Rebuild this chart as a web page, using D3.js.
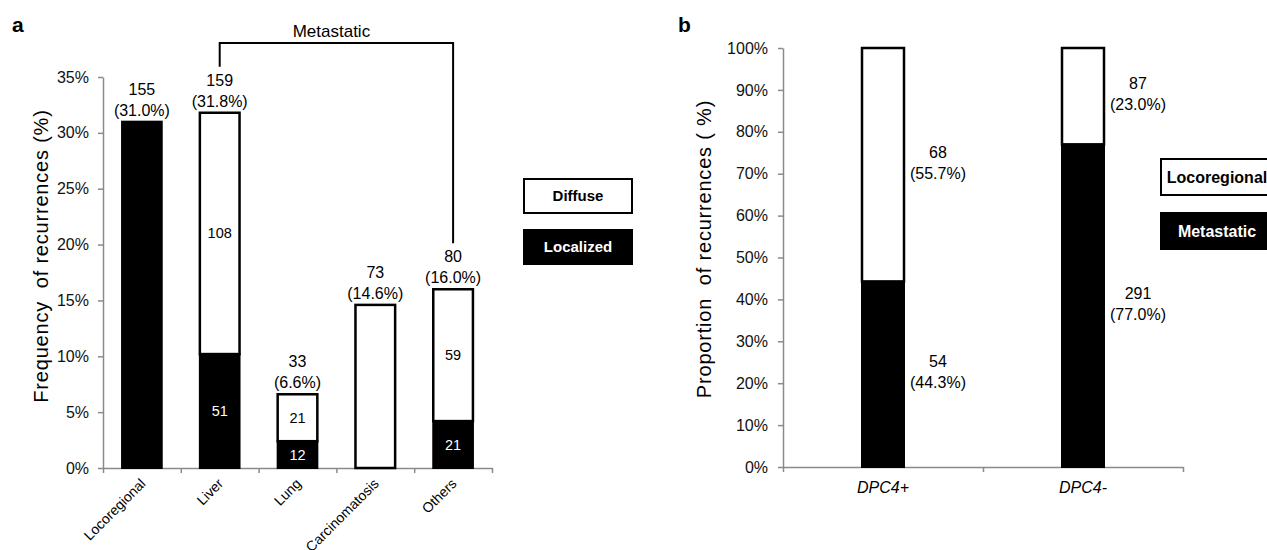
<!DOCTYPE html>
<html>
<head>
<meta charset="utf-8">
<script src="https://cdn.jsdelivr.net/npm/d3@7"></script>
<style>
  body { margin: 0; background: #fff; }
  svg { font-family: "Liberation Sans", Arial, sans-serif; }
</style>
</head>
<body>
<svg id="chart" width="1267" height="550"></svg>
<script>
// panel a: recurrence sites (counts, n = 500)
var sitesA = ["Locoregional", "Liver", "Lung", "Carcinomatosis", "Others"];
var localizedA = [155, 51, 12, 0, 21];
var diffuseA = [0, 108, 21, 73, 59];
var totalA = 500;
var yTicksA = [0, 5, 10, 15, 20, 25, 30, 35];

// panel b: DPC4 status
var groupsB = ["DPC4+", "DPC4-"];
var metastaticB = [54, 291];
var locoregionalB = [68, 87];
var yTicksB = [0, 10, 20, 30, 40, 50, 60, 70, 80, 90, 100];

var svg = d3.select("#chart");
var axisColor = "#8a8a8a";

function styleAxis(g) {
    g.select(".domain").attr("stroke", axisColor).attr("stroke-width", 1.5);
    g.selectAll(".tick line").attr("stroke", axisColor).attr("stroke-width", 1.5);
    g.selectAll(".tick text").attr("fill", "#111").style("font-size", "16px");
}

// ---------- panel a ----------
var xA = d3.scaleBand().domain(sitesA).range([103, 492]).paddingInner(0.49).paddingOuter(0.245);
var xTickA = d3.scaleLinear().domain([0, sitesA.length]).range([103, 492]);
var yA = d3.scaleLinear().domain([0, 35]).range([468, 77]);
var pct = function(n) { return n / totalA * 100; };

svg.append("g")
    .attr("transform", "translate(103,0)")
    .call(d3.axisLeft(yA).tickValues(yTicksA).tickFormat(function(d) { return d + "%"; }).tickSize(5).tickSizeOuter(0).tickPadding(9))
    .call(styleAxis);

svg.append("g")
    .attr("transform", "translate(0,468)")
    .call(d3.axisBottom(xTickA).ticks(sitesA.length).tickFormat("").tickSize(5).tickSizeOuter(0))
    .call(styleAxis);

var barsA = svg.append("g").selectAll("g").data(sitesA).enter().append("g");

barsA.append("rect")   // localized (black)
    .attr("x", function(d) { return xA(d); })
    .attr("width", xA.bandwidth())
    .attr("y", function(d, i) { return yA(pct(localizedA[i])); })
    .attr("height", function(d, i) { return yA(0) - yA(pct(localizedA[i])); })
    .attr("fill", "#000")
    .attr("stroke", "#000").attr("stroke-width", 2);

barsA.filter(function(d, i) { return diffuseA[i] > 0; })
    .append("rect")   // diffuse (white)
    .attr("x", function(d) { return xA(d); })
    .attr("width", xA.bandwidth())
    .attr("y", function(d) { var i = sitesA.indexOf(d); return yA(pct(localizedA[i] + diffuseA[i])); })
    .attr("height", function(d) { var i = sitesA.indexOf(d); return yA(pct(localizedA[i])) - yA(pct(localizedA[i] + diffuseA[i])); })
    .attr("fill", "#fff")
    .attr("stroke", "#000").attr("stroke-width", 2.5);

// totals above bars, counts inside
barsA.each(function(d, i) {
    var g = d3.select(this);
    var n = localizedA[i] + diffuseA[i];
    var top = yA(pct(n));
    var cx = xA(d) + xA.bandwidth() / 2;
    g.append("text").attr("x", cx).attr("y", top - 27).attr("text-anchor", "middle")
        .style("font-size", "16px").text(n);
    g.append("text").attr("x", cx).attr("y", top - 6).attr("text-anchor", "middle")
        .style("font-size", "16px").text("(" + pct(n).toFixed(1) + "%)");
    if (localizedA[i] > 0 && diffuseA[i] > 0) {
        var midL = yA(pct(localizedA[i]) / 2);
        var midD = yA(pct(localizedA[i]) + pct(diffuseA[i]) / 2);
        g.append("text").attr("x", cx).attr("y", midD + 5).attr("text-anchor", "middle")
            .style("font-size", "14.5px").text(diffuseA[i]);
        g.append("text").attr("x", cx).attr("y", midL + 5).attr("text-anchor", "middle")
            .attr("fill", "#fff").style("font-size", "14.5px").text(localizedA[i]);
    }
});

// x labels rotated
svg.append("g").selectAll("text").data(sitesA).enter().append("text")
    .attr("transform", function(d) { return "translate(" + (xA(d) + xA.bandwidth() / 2 + 1) + ",481) rotate(-45)"; })
    .attr("text-anchor", "end")
    .attr("dy", "0.35em")
    .style("font-size", "14px")
    .text(function(d) { return d; });

// "Metastatic" bracket from Liver to Others
var bLeft = xA("Liver") + xA.bandwidth() / 2;
var bRight = xA("Others") + xA.bandwidth() / 2;
var bY = yA(35) - 34;
var liverTop = yA(pct(localizedA[1] + diffuseA[1]));
var othersTop = yA(pct(localizedA[4] + diffuseA[4]));
svg.append("path")
    .attr("d", d3.line()([[bLeft, liverTop - 46], [bLeft, bY], [bRight, bY], [bRight, othersTop - 46]]))
    .attr("fill", "none").attr("stroke", "#000").attr("stroke-width", 2);
svg.append("text").attr("x", (bLeft + bRight) / 2 - 5).attr("y", bY - 6)
    .attr("text-anchor", "middle").style("font-size", "17px").text("Metastatic");

svg.append("text")
    .attr("transform", "translate(48,256) rotate(-90)")
    .attr("text-anchor", "middle").style("font-size", "20px").style("letter-spacing", "0.8px")
    .style("white-space", "pre")
    .text("Frequency  of recurrences (%)");

svg.append("text").attr("x", 12).attr("y", 32).style("font-size", "21px").style("font-weight", "bold").text("a");

// legend a
var legA = [{ label: "Diffuse", fill: "#fff", color: "#000" },
            { label: "Localized", fill: "#000", color: "#fff" }];
var lgA = svg.append("g").selectAll("g").data(legA).enter().append("g")
    .attr("transform", function(d, i) { return "translate(524," + (179 + i * 51) + ")"; });
lgA.append("rect").attr("width", 108).attr("height", 34)
    .attr("fill", function(d) { return d.fill; }).attr("stroke", "#000").attr("stroke-width", 2);
lgA.append("text").attr("x", 54).attr("y", 22).attr("text-anchor", "middle")
    .attr("fill", function(d) { return d.color; })
    .style("font-size", "15px").style("font-weight", "bold")
    .text(function(d) { return d.label; });

// ---------- panel b ----------
var xB = d3.scaleBand().domain(groupsB).range([783, 1183]).paddingInner(0.79).paddingOuter(0.395);
var xTickB = d3.scaleLinear().domain([0, groupsB.length]).range([783, 1183]);
var yB = d3.scaleLinear().domain([0, 100]).range([467, 48]);

svg.append("g")
    .attr("transform", "translate(783,0)")
    .call(d3.axisLeft(yB).tickValues(yTicksB).tickFormat(function(d) { return d + "%"; }).tickSize(5).tickSizeOuter(0).tickPadding(10))
    .call(styleAxis);

svg.append("g")
    .attr("transform", "translate(0,467)")
    .call(d3.axisBottom(xTickB).ticks(groupsB.length).tickFormat("").tickSize(5).tickSizeOuter(0))
    .call(styleAxis);

groupsB.forEach(function(grp, i) {
    var tot = metastaticB[i] + locoregionalB[i];
    var pm = metastaticB[i] / tot * 100;
    var pl = locoregionalB[i] / tot * 100;
    var g = svg.append("g");
    g.append("rect").attr("x", xB(grp)).attr("width", xB.bandwidth())
        .attr("y", yB(pm + pl)).attr("height", yB(pm) - yB(pm + pl))
        .attr("fill", "#fff").attr("stroke", "#000").attr("stroke-width", 2.5);
    g.append("rect").attr("x", xB(grp)).attr("width", xB.bandwidth())
        .attr("y", yB(pm)).attr("height", yB(0) - yB(pm))
        .attr("fill", "#000").attr("stroke", "#000").attr("stroke-width", 2);
    var lx = xB(grp) + xB.bandwidth() + 34;
    [[locoregionalB[i], pl, pm + pl / 2], [metastaticB[i], pm, pm / 2]].forEach(function(s) {
        var my = yB(s[2]);
        g.append("text").attr("x", lx).attr("y", my - 7).attr("text-anchor", "middle")
            .style("font-size", "16px").text(s[0]);
        g.append("text").attr("x", lx).attr("y", my + 14).attr("text-anchor", "middle")
            .style("font-size", "16px").text("(" + s[1].toFixed(1) + "%)");
    });
});

svg.append("g").selectAll("text").data(groupsB).enter().append("text")
    .attr("x", function(d) { return xB(d) + xB.bandwidth() / 2; })
    .attr("y", 493)
    .attr("text-anchor", "middle")
    .style("font-size", "16px").style("font-style", "italic")
    .text(function(d) { return d; });

svg.append("text")
    .attr("transform", "translate(711,249) rotate(-90)")
    .attr("text-anchor", "middle").style("font-size", "20px").style("letter-spacing", "0.8px")
    .style("white-space", "pre")
    .text("Proportion  of recurrences ( %)");

svg.append("text").attr("x", 678).attr("y", 32).style("font-size", "21px").style("font-weight", "bold").text("b");

// legend b
var legB = [{ label: "Locoregional", fill: "#fff", color: "#000" },
            { label: "Metastatic", fill: "#000", color: "#fff" }];
var lgB = svg.append("g").selectAll("g").data(legB).enter().append("g")
    .attr("transform", function(d, i) { return "translate(1161," + (159 + i * 54) + ")"; });
lgB.append("rect").attr("width", 116).attr("height", 36)
    .attr("fill", function(d) { return d.fill; }).attr("stroke", "#000").attr("stroke-width", 2);
lgB.append("text").attr("x", 56).attr("y", 24).attr("text-anchor", "middle")
    .attr("fill", function(d) { return d.color; })
    .style("font-size", "16px").style("font-weight", "bold")
    .text(function(d) { return d.label; });
</script>
</body>
</html>
